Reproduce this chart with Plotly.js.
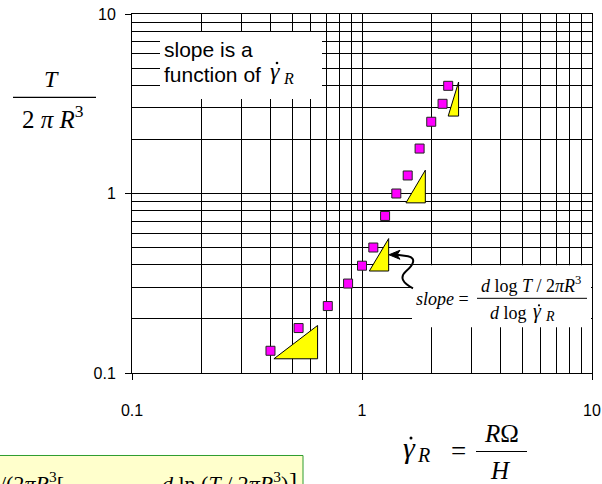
<!DOCTYPE html>
<html>
<head>
<meta charset="utf-8">
<script src="https://cdn.plot.ly/plotly-3.0.1.min.js"></script>
<style>
  html, body { margin: 0; padding: 0; background: #fff; }
  #chart { width: 602px; height: 484px; }
</style>
</head>
<body>
<div id="chart"></div>
<script>
// Wall shear rate (1/s) and torque group T/2πR³ measured on the cone/plate
const shearRate = [0.40, 0.53, 0.71, 0.87, 1.00, 1.12, 1.26, 1.41, 1.58, 1.78, 2.00, 2.24, 2.37];
const torqueGroup = [0.133, 0.178, 0.236, 0.315, 0.396, 0.500, 0.750, 1.00, 1.26, 1.78, 2.51, 3.16, 3.98];

// Local slope triangles: left x, right x, bottom y, top y (data units)
const triLeft = [0.414, 1.076, 1.553, 2.37];
const triRight = [0.641, 1.306, 1.885, 2.63];
const triBottom = [0.120, 0.370, 0.887, 2.70];
const triTop = [0.184, 0.561, 1.349, 4.18];

// Axis tick labels and minor grid positions
const majorTicks = [0.1, 1, 10];
const majorLabels = ['0.1', '1', '10'];
const minorTicks = [0.2, 0.3, 0.4, 0.5, 0.6, 0.7, 0.8, 0.9, 2, 3, 4, 5, 6, 7, 8, 9];

// plot box in pixels
const L = 132, R = 592, T = 14, B = 372.6;
const px = x => (x - L) / (R - L);
const py = y => (B - y) / (B - T);

const SERIF = 'Liberation Serif, Times New Roman, serif';
const SANS = 'Liberation Sans, Arial, sans-serif';

const traces = [];
for (let i = 0; i < triLeft.length; i++) {
  traces.push({
    type: 'scatter', mode: 'lines',
    x: [triLeft[i], triRight[i], triRight[i], triLeft[i]],
    y: [triBottom[i], triTop[i], triBottom[i], triBottom[i]],
    fill: 'toself', fillcolor: '#ffff00',
    line: { color: '#000', width: 1 },
    hoverinfo: 'skip', showlegend: false
  });
}
traces.push({
  type: 'scatter', mode: 'markers',
  x: shearRate, y: torqueGroup,
  marker: { symbol: 'square', size: 9, color: '#ff00ff', line: { color: '#222', width: 1 } },
  showlegend: false
});

function textAt(x, y, text, size, family, xanchor, yanchor) {
  return {
    xref: 'paper', yref: 'paper', x: px(x), y: py(y),
    text: text, showarrow: false,
    xanchor: xanchor || 'center', yanchor: yanchor || 'middle',
    align: 'left',
    font: { family: family || SERIF, size: size, color: '#000' }
  };
}
function hline(x0, x1, y, width) {
  return { type: 'line', xref: 'paper', yref: 'paper', x0: px(x0), x1: px(x1), y0: py(y), y1: py(y),
           line: { color: '#000', width: width || 1 } };
}
function box(x0, y0, x1, y1, fill, lineColor) {
  return { type: 'rect', xref: 'paper', yref: 'paper', x0: px(x0), x1: px(x1), y0: py(y0), y1: py(y1),
           fillcolor: fill, line: { color: lineColor || fill, width: lineColor ? 1 : 0 } };
}
function dot(x, y, r) {
  return { type: 'circle', xref: 'paper', yref: 'paper',
           x0: px(x - r), x1: px(x + r), y0: py(y + r), y1: py(y - r),
           fillcolor: '#000', line: { width: 0 } };
}
function pathOf(cmds) {
  // pixel commands -> paper path
  let s = '';
  for (let i = 0; i < cmds.length; i++) {
    s += cmds[i][0] + ' ' + cmds[i].slice(1).map((v, k) => (k % 2 === 0 ? px(v) : py(v)).toFixed(5)).join(' ') + ' ';
  }
  return s;
}

const shapes = [
  // white label panels
  box(160, 32, 322, 99, '#ffffff'),
  box(412, 265, 591, 327, '#ffffff'),
  // equation panel at bottom
  box(-5, 455, 303, 500, '#ffffcc', '#2e9c2e'),
  // fraction bars
  hline(13, 96, 97.3, 1.2),
  hline(476, 527, 451, 1.2),
  hline(477, 587, 298, 1),
  // dots over the shear-rate symbols
  dot(277, 63, 1.3),
  dot(411, 437.5, 1.5),
  dot(539, 305, 1.1),
  // curved pointer
  { type: 'path', xref: 'paper', yref: 'paper',
    path: pathOf([['M', 413, 288], ['C', 403, 283, 399, 277, 406, 271], ['C', 413, 265, 417, 258, 408, 256], ['L', 397, 254.5]]),
    line: { color: '#000', width: 2 } },
  { type: 'path', xref: 'paper', yref: 'paper',
    path: pathOf([['M', 389, 254.5], ['L', 400, 250], ['L', 397, 254.5], ['L', 400, 259], ['Z']]),
    fillcolor: '#000', line: { color: '#000', width: 1 } }
];

const annotations = [
  // y-axis title
  textAt(51, 79, '<i>T</i>', 24),
  textAt(53, 117, '2 <i>π</i> <i>R</i><sup>3</sup>', 25),
  // x-axis title
  textAt(409, 447, '<i>γ</i>', 30),
  textAt(423, 455, '<i>R</i>', 20),
  textAt(458, 451, '=', 27),
  textAt(501, 433, '<i>R</i>Ω', 25),
  textAt(500, 470, '<i>H</i>', 25),
  // note panel
  textAt(162, 49, 'slope is a', 21, SANS, 'left'),
  textAt(162, 74, 'function of', 21, SANS, 'left'),
  textAt(275, 71, '<i>γ</i>', 24),
  textAt(288, 78, '<i>R</i>', 16),
  // slope definition
  textAt(471, 299, '<i>slope</i> =', 18, SERIF, 'right'),
  textAt(531, 284, '<i>d</i> log <i>T</i> / 2<i>π</i><i>R</i><sup>3</sup>', 18),
  textAt(529, 313, '<i>d</i> log', 18, SERIF, 'right'),
  textAt(537, 311, '<i>γ</i>', 20),
  textAt(550, 316, '<i>R</i>', 14),
  // equation panel text
  textAt(-2, 465, '/(2<i>π</i><i>R</i><sup>3</sup>[', 22, SERIF, 'left', 'top'),
  textAt(225, 465, '<i>d</i> ln (<i>T</i> / 2<i>π</i><i>R</i><sup>3</sup>)', 22, SERIF, 'center', 'top'),
  textAt(287, 465, ']', 24, SERIF, 'left', 'top')
];

const axisCommon = {
  type: 'log', range: [-1, 1],
  tickvals: majorTicks, ticktext: majorLabels,
  ticks: 'outside', ticklen: 6, tickcolor: '#000', tickwidth: 1,
  showgrid: true, gridcolor: '#000', gridwidth: 1,
  minor: { tickvals: minorTicks, showgrid: true, gridcolor: '#000', gridwidth: 1, ticks: '' },
  showline: true, linecolor: '#000', linewidth: 1, mirror: true,
  zeroline: false, fixedrange: true,
  tickfont: { family: SANS, size: 16, color: '#000' }
};

const layout = {
  width: 602, height: 484,
  margin: { l: L, r: 602 - R, t: T, b: 484 - B, pad: 0 },
  paper_bgcolor: '#fff', plot_bgcolor: '#fff',
  showlegend: false,
  xaxis: Object.assign({}, axisCommon, { ticklabelstandoff: 17 }),
  yaxis: Object.assign({}, axisCommon, { ticklabelstandoff: 6 }),
  shapes: shapes,
  annotations: annotations
};

Plotly.newPlot('chart', traces, layout, { displayModeBar: false, staticPlot: true });
</script>
</body>
</html>
